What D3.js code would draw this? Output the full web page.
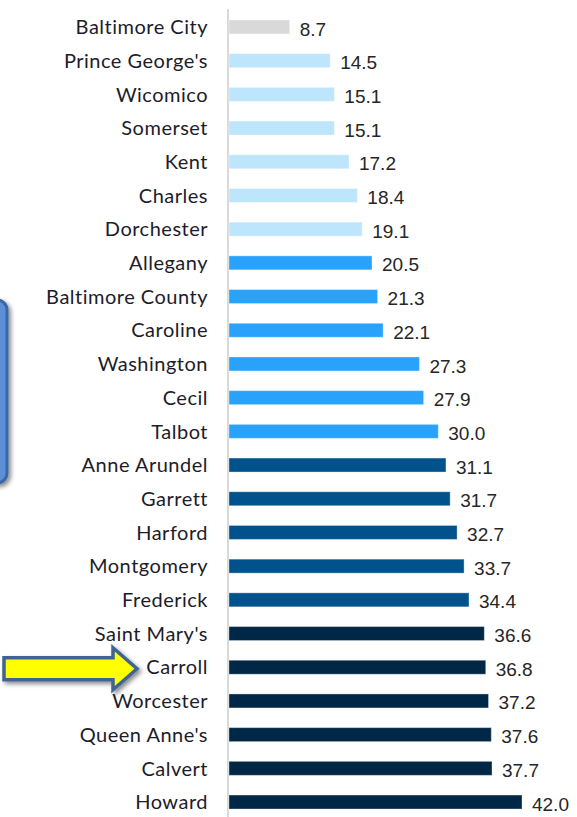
<!DOCTYPE html>
<html>
<head>
<meta charset="utf-8">
<script src="https://cdn.jsdelivr.net/npm/d3@7"></script>
<style>
  html, body { margin: 0; padding: 0; background: #fff; }
  svg { display: block; }
</style>
</head>
<body>
<svg id="chart" width="577" height="817"></svg>
<script>
const counties = ["Baltimore City", "Prince George's", "Wicomico", "Somerset", "Kent", "Charles",
  "Dorchester", "Allegany", "Baltimore County", "Caroline", "Washington", "Cecil", "Talbot",
  "Anne Arundel", "Garrett", "Harford", "Montgomery", "Frederick", "Saint Mary's", "Carroll",
  "Worcester", "Queen Anne's", "Calvert", "Howard"];
const values = [8.7, 14.5, 15.1, 15.1, 17.2, 18.4, 19.1, 20.5, 21.3, 22.1, 27.3, 27.9, 30.0,
  31.1, 31.7, 32.7, 33.7, 34.4, 36.6, 36.8, 37.2, 37.6, 37.7, 42.0];
const tiers = [0, 1, 1, 1, 1, 1, 1, 2, 2, 2, 2, 2, 2, 3, 3, 3, 3, 3, 4, 4, 4, 4, 4, 4];
const tierColours = ["#d9d9d9", "#bde5fc", "#29a2fb", "#00528c", "#002746"];
const highlight = "Carroll";

const rows = counties.map((c, i) => ({ county: c, value: values[i], tier: tiers[i] }));

const svg = d3.select("#chart");

const x = d3.scaleLinear().domain([0, 45]).range([229, 229 + 45 * 6.976]);
const y = d3.scaleBand().domain(counties).range([10, 819]).paddingInner(0.585).paddingOuter(0.296);

const defs = svg.append("defs");
const shadow = defs.append("filter").attr("id", "shadow")
  .attr("x", "-20%").attr("y", "-20%").attr("width", "150%").attr("height", "150%");
shadow.append("feDropShadow")
  .attr("dx", 2.5).attr("dy", 2.5).attr("stdDeviation", 2)
  .attr("flood-color", "#000").attr("flood-opacity", 0.45);

// axis line
svg.append("line")
  .attr("x1", x(0) - 1).attr("x2", x(0) - 1)
  .attr("y1", 9).attr("y2", 817)
  .attr("stroke", "#d9d9d9").attr("stroke-width", 2);

svg.selectAll(".bar")
  .data(rows)
  .join("rect")
  .attr("class", "bar")
  .attr("x", x(0))
  .attr("y", d => y(d.county))
  .attr("width", d => x(d.value) - x(0))
  .attr("height", y.bandwidth())
  .attr("fill", d => tierColours[d.tier])
  .attr("stroke", "#ffffff")
  .attr("stroke-opacity", 0.35)
  .attr("stroke-width", 1);

svg.selectAll(".county")
  .data(rows)
  .join("text")
  .attr("class", "county")
  .attr("x", 208)
  .attr("y", d => y(d.county) + y.bandwidth() / 2)
  .attr("dy", "0.36em")
  .attr("text-anchor", "end")
  .attr("font-family", "Lato, 'Open Sans', sans-serif")
  .attr("font-size", 20)
  .attr("letter-spacing", 0.5)
  .attr("fill", "#1c1c2a")
  .text(d => d.county);

svg.selectAll(".value")
  .data(rows)
  .join("text")
  .attr("class", "value")
  .attr("x", d => x(d.value) + 10)
  .attr("y", d => y(d.county) + y.bandwidth() / 2)
  .attr("dy", "0.45em")
  .attr("font-family", "'Liberation Sans', Arial, sans-serif")
  .attr("font-size", 19)
  .attr("fill", "#262626")
  .text(d => d3.format(".1f")(d.value));

// rounded call-out box cut off at the left edge
svg.append("rect")
  .attr("x", -40).attr("y", 300)
  .attr("width", 47).attr("height", 183)
  .attr("rx", 10)
  .attr("fill", "#5b8fd8")
  .attr("stroke", "#3b68a3")
  .attr("stroke-width", 3)
  .attr("filter", "url(#shadow)");

// arrow pointing at the highlighted county
const ay = y(highlight) + y.bandwidth() / 2 + 1.5;
const arrowPts = [[4, ay - 11], [113, ay - 11], [113, ay - 21], [137, ay], [113, ay + 21],
  [113, ay + 11], [4, ay + 11]];
svg.append("path")
  .attr("d", d3.line()(arrowPts) + "Z")
  .attr("fill", "#ffff00")
  .attr("stroke", "#3f6496")
  .attr("stroke-width", 3.5)
  .attr("stroke-linejoin", "miter")
  .attr("filter", "url(#shadow)");
</script>
</body>
</html>
